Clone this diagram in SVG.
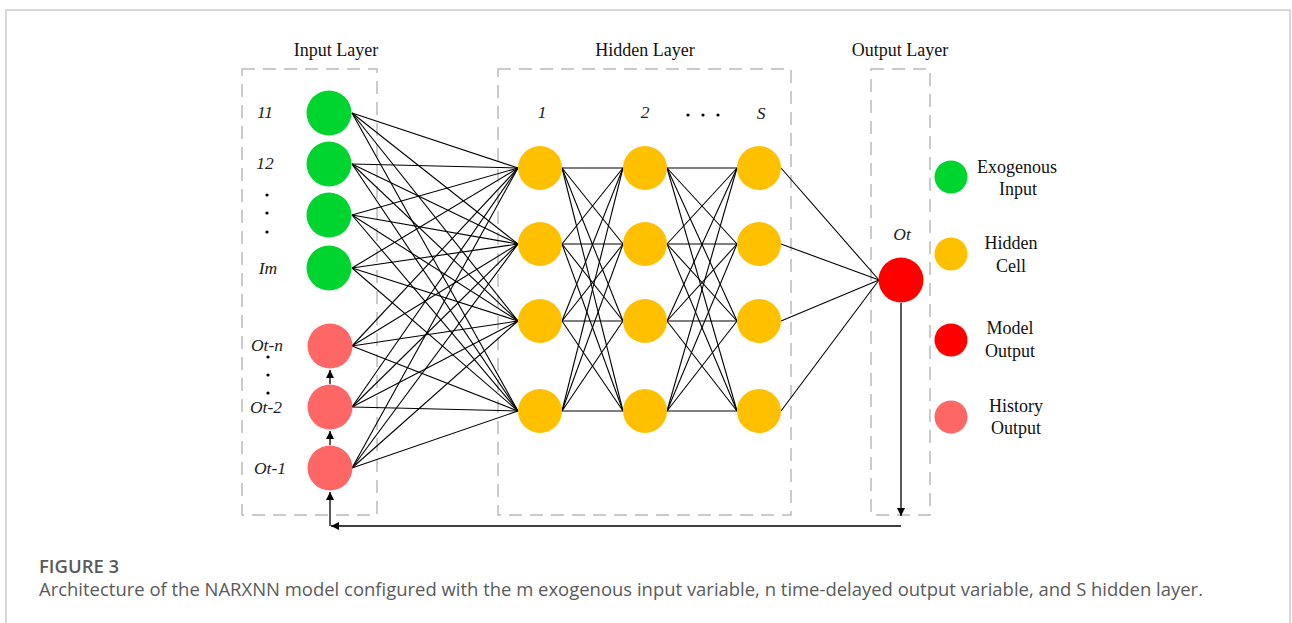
<svg xmlns="http://www.w3.org/2000/svg" width="1292" height="623" viewBox="0 0 1292 623">
<defs>
<marker id="ah" viewBox="0 0 10 10" refX="10" refY="5" markerWidth="8" markerHeight="8" markerUnits="userSpaceOnUse" orient="auto">
<path d="M0,0 L10,5 L0,10 z" fill="#000"/>
</marker>
<style>
.frame{fill:#fff;stroke:#ccc;stroke-width:1.5}
.box{fill:none;stroke:#bbb;stroke-width:1.5;stroke-dasharray:13 8}
.title{font-family:"Liberation Serif",serif;font-size:18px;fill:#111;text-anchor:middle}
.lab{font-family:"Liberation Serif",serif;font-style:italic;font-size:17.5px;fill:#222;text-anchor:middle}
.leg{font-family:"Liberation Serif",serif;font-size:18px;fill:#111;text-anchor:middle}
.c g line{stroke:#000;stroke-width:1.1}
.arr{stroke:#000;stroke-width:1.3;fill:none;marker-end:url(#ah)}
.green{fill:#00d42f}.yel{fill:#ffc000}.red{fill:#ff0000}.pink{fill:#ff6666}
.cap1{font-family:"Open Sans","Noto Sans",sans-serif;font-size:18.5px;font-weight:600;fill:#5a5a5a}
.cap2{font-family:"Open Sans","Noto Sans",sans-serif;font-size:18.5px;fill:#5a5a5a}
</style>
</defs>
<rect class="frame" x="6" y="10" width="1284" height="630"/>
<g id="layer-boxes">
<rect class="box" x="242" y="69" width="135" height="446"/>
<rect class="box" x="498" y="69" width="293" height="446"/>
<rect class="box" x="871" y="69" width="59" height="446"/>
<text class="title" x="336" y="56">Input Layer</text>
<text class="title" x="645" y="56">Hidden Layer</text>
<text class="title" x="900" y="56">Output Layer</text>
</g>
<g id="connectors" class="c">
<g id="in-hid">
<line x1="352" y1="113" x2="518" y2="168"/><line x1="352" y1="113" x2="518" y2="244"/><line x1="352" y1="113" x2="518" y2="321"/><line x1="352" y1="113" x2="518" y2="411"/>
<line x1="352" y1="164" x2="518" y2="168"/><line x1="352" y1="164" x2="518" y2="244"/><line x1="352" y1="164" x2="518" y2="321"/><line x1="352" y1="164" x2="518" y2="411"/>
<line x1="352" y1="215" x2="518" y2="168"/><line x1="352" y1="215" x2="518" y2="244"/><line x1="352" y1="215" x2="518" y2="321"/><line x1="352" y1="215" x2="518" y2="411"/>
<line x1="352" y1="268" x2="518" y2="168"/><line x1="352" y1="268" x2="518" y2="244"/><line x1="352" y1="268" x2="518" y2="321"/><line x1="352" y1="268" x2="518" y2="411"/>
<line x1="352" y1="346" x2="518" y2="168"/><line x1="352" y1="346" x2="518" y2="244"/><line x1="352" y1="346" x2="518" y2="321"/><line x1="352" y1="346" x2="518" y2="411"/>
<line x1="352" y1="407" x2="518" y2="168"/><line x1="352" y1="407" x2="518" y2="244"/><line x1="352" y1="407" x2="518" y2="321"/><line x1="352" y1="407" x2="518" y2="411"/>
<line x1="352" y1="468" x2="518" y2="168"/><line x1="352" y1="468" x2="518" y2="244"/><line x1="352" y1="468" x2="518" y2="321"/><line x1="352" y1="468" x2="518" y2="411"/>
</g>
<g id="h1-h2">
<line x1="562" y1="168" x2="623" y2="168"/><line x1="562" y1="168" x2="623" y2="244"/><line x1="562" y1="168" x2="623" y2="321"/><line x1="562" y1="168" x2="623" y2="411"/>
<line x1="562" y1="244" x2="623" y2="168"/><line x1="562" y1="244" x2="623" y2="244"/><line x1="562" y1="244" x2="623" y2="321"/><line x1="562" y1="244" x2="623" y2="411"/>
<line x1="562" y1="321" x2="623" y2="168"/><line x1="562" y1="321" x2="623" y2="244"/><line x1="562" y1="321" x2="623" y2="321"/><line x1="562" y1="321" x2="623" y2="411"/>
<line x1="562" y1="411" x2="623" y2="168"/><line x1="562" y1="411" x2="623" y2="244"/><line x1="562" y1="411" x2="623" y2="321"/><line x1="562" y1="411" x2="623" y2="411"/>
</g>
<g id="h2-h3">
<line x1="667" y1="168" x2="737" y2="168"/><line x1="667" y1="168" x2="737" y2="244"/><line x1="667" y1="168" x2="737" y2="321"/><line x1="667" y1="168" x2="737" y2="411"/>
<line x1="667" y1="244" x2="737" y2="168"/><line x1="667" y1="244" x2="737" y2="244"/><line x1="667" y1="244" x2="737" y2="321"/><line x1="667" y1="244" x2="737" y2="411"/>
<line x1="667" y1="321" x2="737" y2="168"/><line x1="667" y1="321" x2="737" y2="244"/><line x1="667" y1="321" x2="737" y2="321"/><line x1="667" y1="321" x2="737" y2="411"/>
<line x1="667" y1="411" x2="737" y2="168"/><line x1="667" y1="411" x2="737" y2="244"/><line x1="667" y1="411" x2="737" y2="321"/><line x1="667" y1="411" x2="737" y2="411"/>
</g>
<g id="h3-out">
<line x1="781" y1="168" x2="879" y2="280"/><line x1="781" y1="244" x2="879" y2="280"/><line x1="781" y1="321" x2="879" y2="280"/><line x1="781" y1="411" x2="879" y2="280"/>
</g>
<g id="feedback">
<path class="arr" d="M901,303 V516"/>
<path class="arr" d="M901,526 H331"/>
<path class="arr" d="M330,526 V492"/>
<path class="arr" d="M330,445 V431"/>
<path class="arr" d="M330,384 V370"/>
</g>
</g>
<g id="input-nodes">
<circle class="green" cx="329" cy="113" r="22.5"/>
<circle class="green" cx="329" cy="164" r="22.5"/>
<circle class="green" cx="329" cy="215" r="22.5"/>
<circle class="green" cx="329" cy="268" r="22.5"/>
<circle class="pink" cx="330" cy="346" r="22.5"/>
<circle class="pink" cx="330" cy="407" r="22.5"/>
<circle class="pink" cx="330" cy="468" r="22.5"/>
<text class="lab" x="265" y="118">11</text>
<text class="lab" x="265" y="169">12</text>
<circle cx="267" cy="195" r="1.6" fill="#000"/><circle cx="267" cy="213" r="1.6" fill="#000"/><circle cx="267" cy="232" r="1.6" fill="#000"/>
<text class="lab" x="268" y="274">Im</text>
<text class="lab" x="267" y="351">Ot-n</text>
<circle cx="268" cy="357" r="1.6" fill="#000"/><circle cx="268" cy="375" r="1.6" fill="#000"/><circle cx="268" cy="393" r="1.6" fill="#000"/>
<text class="lab" x="266" y="413">Ot-2</text>
<text class="lab" x="270" y="474">Ot-1</text>
</g>
<g id="hidden-nodes">
<circle class="yel" cx="540" cy="168" r="22"/><circle class="yel" cx="540" cy="244" r="22"/><circle class="yel" cx="540" cy="321" r="22"/><circle class="yel" cx="540" cy="411" r="22"/>
<circle class="yel" cx="645" cy="168" r="22"/><circle class="yel" cx="645" cy="244" r="22"/><circle class="yel" cx="645" cy="321" r="22"/><circle class="yel" cx="645" cy="411" r="22"/>
<circle class="yel" cx="759" cy="168" r="22"/><circle class="yel" cx="759" cy="244" r="22"/><circle class="yel" cx="759" cy="321" r="22"/><circle class="yel" cx="759" cy="411" r="22"/>
<text class="lab" x="542" y="118">1</text>
<text class="lab" x="645" y="118">2</text>
<circle cx="688" cy="115" r="1.6" fill="#000"/><circle cx="703" cy="115" r="1.6" fill="#000"/><circle cx="718" cy="115" r="1.6" fill="#000"/>
<text class="lab" x="761" y="119">S</text>
</g>
<g id="output-node">
<circle class="red" cx="901" cy="280" r="22.5"/>
<text class="lab" x="902" y="240">Ot</text>
</g>
<g id="legend">
<circle class="green" cx="951" cy="177" r="16.5"/>
<text class="leg" x="1017" y="173">Exogenous</text>
<text class="leg" x="1018" y="195">Input</text>
<circle class="yel" cx="951" cy="254" r="16.5"/>
<text class="leg" x="1011" y="249">Hidden</text>
<text class="leg" x="1011" y="272">Cell</text>
<circle class="red" cx="951" cy="340" r="16.5"/>
<text class="leg" x="1010" y="334">Model</text>
<text class="leg" x="1010" y="357">Output</text>
<circle class="pink" cx="951" cy="417" r="16.5"/>
<text class="leg" x="1016" y="412">History</text>
<text class="leg" x="1016" y="434">Output</text>
</g>
<g id="caption">
<text class="cap1" x="39" y="573">FIGURE 3</text>
<text class="cap2" x="39" y="596" textLength="1164" lengthAdjust="spacingAndGlyphs">Architecture of the NARXNN model configured with the m exogenous input variable, n time-delayed output variable, and S hidden layer.</text>
</g>
</svg>
